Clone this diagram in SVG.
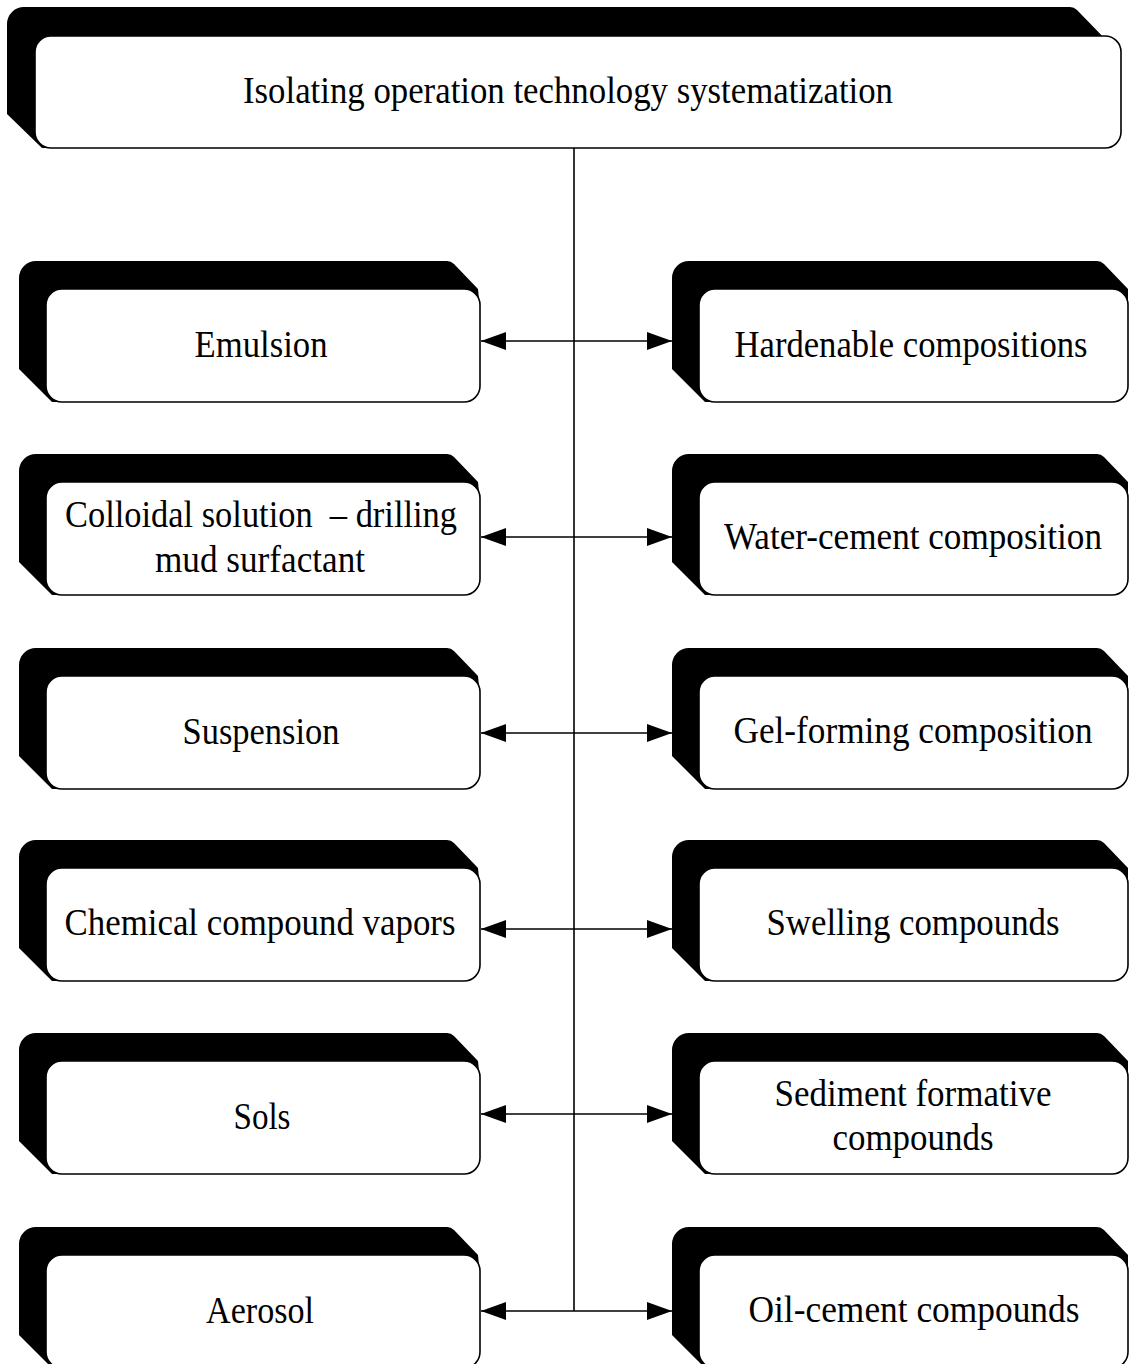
<svg xmlns="http://www.w3.org/2000/svg" width="1129" height="1364" viewBox="0 0 1129 1364">
<style>
.sh{fill:#000;stroke:none}
.bx{fill:#fff;stroke:#000;stroke-width:1.6}
.t{font-family:"Liberation Serif","Times New Roman",serif;font-size:38px;fill:#000;text-anchor:middle}
.c{stroke:#000;stroke-width:1.6;fill:none}
</style>
<defs>
<marker id="ah" markerUnits="userSpaceOnUse" markerWidth="26" markerHeight="20" viewBox="0 0 26 20" refX="25" refY="10" orient="auto-start-reverse">
<path d="M0,1 L25,10 L0,19 Z" fill="#000"/>
</marker>
</defs>
<rect width="1129" height="1364" fill="#fff"/>
<g id="connectors">
<line class="c" x1="574" y1="148" x2="574" y2="1311"/>
<line class="c" x1="481" y1="341" x2="672" y2="341" marker-start="url(#ah)" marker-end="url(#ah)"/>
<line class="c" x1="481" y1="537" x2="672" y2="537" marker-start="url(#ah)" marker-end="url(#ah)"/>
<line class="c" x1="481" y1="733" x2="672" y2="733" marker-start="url(#ah)" marker-end="url(#ah)"/>
<line class="c" x1="481" y1="929" x2="672" y2="929" marker-start="url(#ah)" marker-end="url(#ah)"/>
<line class="c" x1="481" y1="1114" x2="672" y2="1114" marker-start="url(#ah)" marker-end="url(#ah)"/>
<line class="c" x1="481" y1="1311" x2="672" y2="1311" marker-start="url(#ah)" marker-end="url(#ah)"/>
</g>
<g id="top">
<path class="sh" d="M7,24 A17,17 0 0 1 24,7 H1070 Q1074,7 1077,10 L1110,44 V90 H52 V148 H42 L7,114 Z"/>
<rect class="bx" x="35" y="36" width="1086" height="112" rx="16"/>
<text class="t" x="568" y="103" textLength="650" lengthAdjust="spacingAndGlyphs">Isolating operation technology systematization</text>
</g>
<g id="L1" transform="translate(0,289)">
<path class="sh" d="M19,-11 A17,17 0 0 1 36,-28 H447 Q451,-28 454,-25 L478,0 L480,20 V50 H62 V113 H52 L19,80 Z"/>
<rect class="bx" x="46" y="0" width="434" height="113" rx="16"/>
<text class="t" x="261" y="68" textLength="133" lengthAdjust="spacingAndGlyphs">Emulsion</text>
</g>
<g id="L2" transform="translate(0,482)">
<path class="sh" d="M19,-11 A17,17 0 0 1 36,-28 H447 Q451,-28 454,-25 L478,0 L480,20 V50 H62 V113 H52 L19,80 Z"/>
<rect class="bx" x="46" y="0" width="434" height="113" rx="16"/>
<text class="t" x="261" y="45" textLength="392" lengthAdjust="spacingAndGlyphs">Colloidal solution&#160; – drilling</text>
<text class="t" x="260" y="90" textLength="210" lengthAdjust="spacingAndGlyphs">mud surfactant</text>
</g>
<g id="L3" transform="translate(0,676)">
<path class="sh" d="M19,-11 A17,17 0 0 1 36,-28 H447 Q451,-28 454,-25 L478,0 L480,20 V50 H62 V113 H52 L19,80 Z"/>
<rect class="bx" x="46" y="0" width="434" height="113" rx="16"/>
<text class="t" x="261" y="68" textLength="157" lengthAdjust="spacingAndGlyphs">Suspension</text>
</g>
<g id="L4" transform="translate(0,868)">
<path class="sh" d="M19,-11 A17,17 0 0 1 36,-28 H447 Q451,-28 454,-25 L478,0 L480,20 V50 H62 V113 H52 L19,80 Z"/>
<rect class="bx" x="46" y="0" width="434" height="113" rx="16"/>
<text class="t" x="260" y="67" textLength="391" lengthAdjust="spacingAndGlyphs">Chemical compound vapors</text>
</g>
<g id="L5" transform="translate(0,1061)">
<path class="sh" d="M19,-11 A17,17 0 0 1 36,-28 H447 Q451,-28 454,-25 L478,0 L480,20 V50 H62 V113 H52 L19,80 Z"/>
<rect class="bx" x="46" y="0" width="434" height="113" rx="16"/>
<text class="t" x="262" y="68" textLength="57" lengthAdjust="spacingAndGlyphs">Sols</text>
</g>
<g id="L6" transform="translate(0,1255)">
<path class="sh" d="M19,-11 A17,17 0 0 1 36,-28 H447 Q451,-28 454,-25 L478,0 L480,20 V50 H62 V113 H52 L19,80 Z"/>
<rect class="bx" x="46" y="0" width="434" height="113" rx="16"/>
<text class="t" x="260" y="68" textLength="108" lengthAdjust="spacingAndGlyphs">Aerosol</text>
</g>
<g id="R1" transform="translate(0,289)">
<path class="sh" d="M672,-11 A17,17 0 0 1 689,-28 H1097 Q1101,-28 1104,-25 L1128,0 V50 H715 V113 H705 L672,80 Z"/>
<rect class="bx" x="699" y="0" width="429" height="113" rx="16"/>
<text class="t" x="911" y="68" textLength="353" lengthAdjust="spacingAndGlyphs">Hardenable compositions</text>
</g>
<g id="R2" transform="translate(0,482)">
<path class="sh" d="M672,-11 A17,17 0 0 1 689,-28 H1097 Q1101,-28 1104,-25 L1128,0 V50 H715 V113 H705 L672,80 Z"/>
<rect class="bx" x="699" y="0" width="429" height="113" rx="16"/>
<text class="t" x="913" y="67" textLength="378" lengthAdjust="spacingAndGlyphs">Water-cement composition</text>
</g>
<g id="R3" transform="translate(0,676)">
<path class="sh" d="M672,-11 A17,17 0 0 1 689,-28 H1097 Q1101,-28 1104,-25 L1128,0 V50 H715 V113 H705 L672,80 Z"/>
<rect class="bx" x="699" y="0" width="429" height="113" rx="16"/>
<text class="t" x="913" y="67" textLength="359" lengthAdjust="spacingAndGlyphs">Gel-forming composition</text>
</g>
<g id="R4" transform="translate(0,868)">
<path class="sh" d="M672,-11 A17,17 0 0 1 689,-28 H1097 Q1101,-28 1104,-25 L1128,0 V50 H715 V113 H705 L672,80 Z"/>
<rect class="bx" x="699" y="0" width="429" height="113" rx="16"/>
<text class="t" x="913" y="67" textLength="293" lengthAdjust="spacingAndGlyphs">Swelling compounds</text>
</g>
<g id="R5" transform="translate(0,1061)">
<path class="sh" d="M672,-11 A17,17 0 0 1 689,-28 H1097 Q1101,-28 1104,-25 L1128,0 V50 H715 V113 H705 L672,80 Z"/>
<rect class="bx" x="699" y="0" width="429" height="113" rx="16"/>
<text class="t" x="913" y="45" textLength="277" lengthAdjust="spacingAndGlyphs">Sediment formative</text>
<text class="t" x="913" y="89" textLength="161" lengthAdjust="spacingAndGlyphs">compounds</text>
</g>
<g id="R6" transform="translate(0,1255)">
<path class="sh" d="M672,-11 A17,17 0 0 1 689,-28 H1097 Q1101,-28 1104,-25 L1128,0 V50 H715 V113 H705 L672,80 Z"/>
<rect class="bx" x="699" y="0" width="429" height="113" rx="16"/>
<text class="t" x="914" y="67" textLength="331" lengthAdjust="spacingAndGlyphs">Oil-cement compounds</text>
</g>
</svg>
